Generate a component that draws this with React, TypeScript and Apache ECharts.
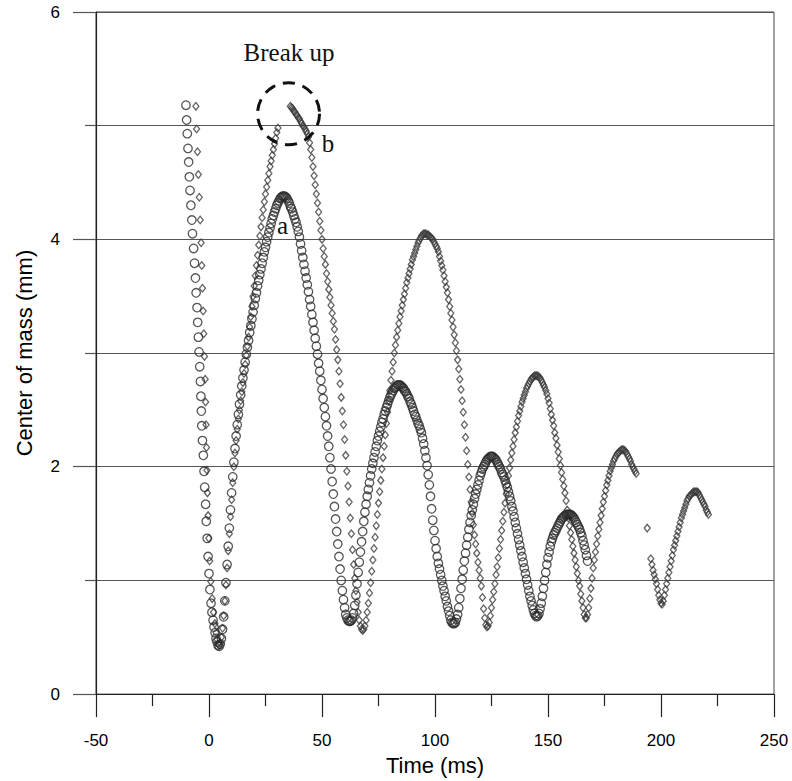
import React, { useEffect, useRef } from "react";
import * as echarts from "echarts";

// Frame interval of the high-speed recording (ms)
const FRAME_MS = 0.5;

// Axis ranges and ticks
const X_MIN = -50;
const X_MAX = 250;
const X_STEP = 50;
const Y_MIN = 0;
const Y_MAX = 6;
const Y_STEP = 2;

// Drop a (circles): free fall before impact, [time ms, height mm]
const aFall = [
  [-10.2, 5.18], [-9.9, 5.05], [-9.6, 4.93], [-9.3, 4.8], [-9.0, 4.68], [-8.7, 4.55],
  [-8.4, 4.43], [-8.0, 4.3], [-7.6, 4.17], [-7.3, 4.05], [-6.8, 3.92], [-6.4, 3.79],
  [-6.0, 3.66], [-5.7, 3.53], [-5.3, 3.4], [-5.0, 3.27], [-4.7, 3.14], [-4.4, 3.01],
  [-4.1, 2.88], [-3.8, 2.75], [-3.6, 2.62], [-3.4, 2.49], [-3.2, 2.36], [-2.9, 2.23],
  [-2.5, 2.1], [-2.2, 1.96], [-1.9, 1.82], [-1.5, 1.67], [-1.2, 1.52], [-0.8, 1.37],
  [-0.4, 1.21], [0.0, 1.06], [0.4, 0.92], [0.9, 0.8], [1.3, 0.72], [1.8, 0.65],
  [2.2, 0.59], [2.7, 0.54], [3.1, 0.49], [3.5, 0.46],
];

// Drop a (circles): rebound frames starting at 4.0 ms
const aBounceStart = 4.0;
const aBounce = [
  0.43, 0.42, 0.44, 0.49, 0.57, 0.68, 0.82, 0.98, 1.14, 1.3, 1.46, 1.62, 1.77, 1.91, 2.04, 2.16,
  2.27, 2.37, 2.46, 2.55, 2.63, 2.71, 2.78, 2.85, 2.92, 2.99, 3.05, 3.11, 3.18, 3.24, 3.3, 3.36,
  3.42, 3.48, 3.53, 3.59, 3.64, 3.69, 3.74, 3.79, 3.84, 3.89, 3.93, 3.98, 4.02, 4.06, 4.1, 4.14,
  4.18, 4.21, 4.24, 4.27, 4.3, 4.32, 4.34, 4.36, 4.37, 4.38, 4.38, 4.38, 4.37, 4.36, 4.34, 4.32,
  4.29, 4.27, 4.24, 4.21, 4.18, 4.15, 4.11, 4.07, 4.02, 3.96, 3.9, 3.84, 3.78, 3.72, 3.66, 3.6,
  3.54, 3.47, 3.41, 3.34, 3.27, 3.2, 3.13, 3.06, 2.99, 2.91, 2.84, 2.76, 2.68, 2.6, 2.52, 2.44,
  2.36, 2.27, 2.18, 2.08, 1.98, 1.87, 1.76, 1.65, 1.54, 1.43, 1.32, 1.21, 1.1, 1.0, 0.91, 0.83,
  0.76, 0.7, 0.67, 0.65, 0.64, 0.64, 0.65, 0.67, 0.71, 0.78, 0.87, 0.97, 1.07, 1.16, 1.25, 1.34,
  1.43, 1.52, 1.6, 1.67, 1.74, 1.8, 1.86, 1.92, 1.98, 2.03, 2.08, 2.13, 2.18, 2.23, 2.27, 2.31,
  2.35, 2.39, 2.42, 2.46, 2.49, 2.52, 2.55, 2.58, 2.61, 2.63, 2.65, 2.67, 2.69, 2.7, 2.71, 2.72,
  2.72, 2.72, 2.71, 2.7, 2.69, 2.67, 2.66, 2.64, 2.62, 2.6, 2.57, 2.55, 2.52, 2.49, 2.46, 2.44,
  2.41, 2.38, 2.36, 2.33, 2.3, 2.25, 2.2, 2.14, 2.08, 2.01, 1.93, 1.84, 1.74, 1.63, 1.53, 1.44,
  1.35, 1.28, 1.21, 1.15, 1.1, 1.05, 1.0, 0.95, 0.91, 0.86, 0.82, 0.77, 0.73, 0.69, 0.65, 0.63,
  0.62, 0.62, 0.63, 0.66, 0.7, 0.76, 0.84, 0.93, 1.01, 1.09, 1.17, 1.24, 1.31, 1.38, 1.45, 1.51,
  1.57, 1.62, 1.67, 1.72, 1.76, 1.8, 1.84, 1.88, 1.92, 1.95, 1.98, 2.0, 2.02, 2.04, 2.06, 2.07,
  2.08, 2.09, 2.09, 2.09, 2.08, 2.07, 2.06, 2.04, 2.02, 2.0, 1.98, 1.95, 1.93, 1.91, 1.88, 1.85,
  1.82, 1.78, 1.74, 1.7, 1.65, 1.61, 1.56, 1.51, 1.46, 1.41, 1.36, 1.31, 1.26, 1.21, 1.16, 1.11,
  1.06, 1.01, 0.96, 0.91, 0.86, 0.82, 0.78, 0.74, 0.71, 0.69, 0.68, 0.69, 0.71, 0.75, 0.8, 0.86,
  0.93, 1.0, 1.07, 1.14, 1.2, 1.25, 1.3, 1.34, 1.37, 1.4, 1.42, 1.44, 1.46, 1.48, 1.5, 1.52,
  1.54, 1.55, 1.56, 1.57, 1.58, 1.58, 1.58, 1.58, 1.58, 1.57, 1.56, 1.55, 1.53, 1.51, 1.49, 1.47,
  1.45, 1.42, 1.39, 1.35, 1.31, 1.27, 1.22, 1.17,
];

// Drop b (diamonds): free fall before impact, [time ms, height mm]
const bFall = [
  [-5.8, 5.17], [-5.5, 4.97], [-5.1, 4.77], [-4.7, 4.57], [-4.3, 4.37], [-3.9, 4.17],
  [-3.5, 3.97], [-3.2, 3.77], [-2.9, 3.57], [-2.6, 3.37], [-2.3, 3.17], [-2.0, 2.97],
  [-1.7, 2.77], [-1.5, 2.57], [-1.3, 2.37], [-1.1, 2.17], [-0.9, 1.97], [-0.7, 1.77],
  [-0.4, 1.57], [-0.1, 1.37], [0.3, 1.17], [0.8, 0.99], [1.4, 0.84], [2.0, 0.72],
  [2.6, 0.62], [3.1, 0.54], [3.6, 0.48],
];

// Drop b (diamonds): first rise, frames starting at 4.0 ms
const bRiseStart = 4.0;
const bRise = [
  0.44, 0.43, 0.45, 0.5, 0.58, 0.69, 0.82, 0.96, 1.11, 1.26, 1.41, 1.56, 1.71, 1.86, 2.0, 2.12,
  2.23, 2.33, 2.42, 2.5, 2.58, 2.66, 2.74, 2.82, 2.9, 2.98, 3.06, 3.14, 3.23, 3.32, 3.41, 3.5,
  3.59, 3.68, 3.77, 3.86, 3.95, 4.03, 4.11, 4.19, 4.26, 4.33, 4.4, 4.46, 4.52, 4.58, 4.64, 4.69,
  4.74, 4.79, 4.84, 4.89, 4.94, 4.98,
];

// Drop b (diamonds): after break up, frames starting at 36.0 ms
const bAfterStart = 36.0;
const bAfter = [
  5.17, 5.16, 5.15, 5.13, 5.12, 5.1, 5.09, 5.07, 5.06, 5.04, 5.02, 5.0, 4.99, 4.97, 4.95, 4.93,
  4.9, 4.85, 4.79, 4.72, 4.64, 4.56, 4.48, 4.4, 4.32, 4.24, 4.16, 4.08, 4.0, 3.92, 3.85, 3.78,
  3.7, 3.63, 3.56, 3.49, 3.42, 3.35, 3.28, 3.21, 3.12, 3.03, 2.94, 2.84, 2.73, 2.61, 2.49, 2.37,
  2.24, 2.1, 1.96, 1.83, 1.69, 1.55, 1.41, 1.27, 1.14, 1.02, 0.91, 0.81, 0.72, 0.65, 0.6, 0.57,
  0.56, 0.57, 0.6, 0.65, 0.72, 0.8, 0.89, 0.98, 1.08, 1.18, 1.28, 1.38, 1.48, 1.58, 1.68, 1.78,
  1.88, 1.98, 2.08, 2.18, 2.28, 2.38, 2.48, 2.58, 2.67, 2.76, 2.84, 2.92, 3.0, 3.07, 3.14, 3.2,
  3.26, 3.32, 3.37, 3.42, 3.47, 3.52, 3.57, 3.62, 3.66, 3.7, 3.74, 3.78, 3.82, 3.85, 3.88, 3.91,
  3.94, 3.97, 3.99, 4.01, 4.03, 4.04, 4.05, 4.05, 4.05, 4.04, 4.04, 4.03, 4.02, 4.01, 4.0, 3.98,
  3.96, 3.94, 3.92, 3.89, 3.85, 3.81, 3.77, 3.73, 3.68, 3.63, 3.58, 3.53, 3.47, 3.41, 3.35, 3.29,
  3.23, 3.16, 3.09, 3.02, 2.94, 2.86, 2.77, 2.68, 2.58, 2.48, 2.37, 2.26, 2.14, 2.02, 1.91, 1.8,
  1.69, 1.59, 1.49, 1.4, 1.32, 1.24, 1.16, 1.09, 1.02, 0.95, 0.85, 0.75, 0.67, 0.61, 0.59, 0.6,
  0.63, 0.69, 0.76, 0.83, 0.9, 0.97, 1.05, 1.12, 1.2, 1.28, 1.36, 1.44, 1.52, 1.6, 1.68, 1.76,
  1.84, 1.92, 1.99, 2.06, 2.12, 2.18, 2.24, 2.3, 2.35, 2.4, 2.45, 2.49, 2.53, 2.57, 2.6, 2.63,
  2.66, 2.69, 2.71, 2.73, 2.75, 2.77, 2.78, 2.79, 2.8, 2.8, 2.8, 2.8, 2.79, 2.78, 2.76, 2.74,
  2.72, 2.7, 2.67, 2.64, 2.6, 2.56, 2.51, 2.46, 2.41, 2.36, 2.3, 2.25, 2.19, 2.13, 2.07, 2.01,
  1.95, 1.89, 1.83, 1.77, 1.7, 1.62, 1.55, 1.48, 1.42, 1.36, 1.3, 1.24, 1.18, 1.12, 1.06, 1.0,
  0.95, 0.88, 0.82, 0.76, 0.7, 0.67, 0.67, 0.7, 0.76, 0.84, 0.93, 1.02, 1.11, 1.18, 1.25, 1.32,
  1.39, 1.45, 1.51, 1.57, 1.63, 1.69, 1.74, 1.79, 1.84, 1.88, 1.92, 1.96, 1.99, 2.02, 2.05, 2.07,
  2.09, 2.11, 2.12, 2.13, 2.14, 2.15, 2.15, 2.15, 2.14, 2.13, 2.11, 2.09, 2.07, 2.05, 2.02, 2.0,
  1.98, 1.96, 1.94,
];

// Drop b (diamonds): lone frame and last bounce
const bLone = [[193.9, 1.46]];
const bLastStart = 195.5;
const bLast = [
  1.19, 1.14, 1.09, 1.05, 1.01, 0.97, 0.92, 0.87, 0.83, 0.8, 0.79, 0.82, 0.87, 0.92, 0.97, 1.02,
  1.07, 1.12, 1.17, 1.22, 1.27, 1.31, 1.35, 1.39, 1.43, 1.47, 1.51, 1.55, 1.58, 1.61, 1.64, 1.67,
  1.7, 1.72, 1.74, 1.75, 1.76, 1.77, 1.78, 1.78, 1.78, 1.78, 1.77, 1.75, 1.73, 1.71, 1.69, 1.67,
  1.65, 1.62, 1.6, 1.58,
];

// Annotations placed in data coordinates
const breakUpCenter = [35.2, 5.105];
const breakUpText = [35.4, 5.64];
const labelA = [32.5, 4.12];
const labelB = [52.7, 4.84];

const frames = (start: number, ys: number[]) =>
  ys.map((y, i) => [start + i * FRAME_MS, y]);

const SANS = '"Liberation Sans", Arial, Helvetica, sans-serif';
const SERIF = '"Liberation Serif", "Times New Roman", Times, serif';

export default function App() {
  const ref = useRef<HTMLDivElement>(null);

  useEffect(() => {
    if (!ref.current) return;
    const chart = echarts.init(ref.current, null, { renderer: "svg" });

    const circles = [...aFall, ...frames(aBounceStart, aBounce)];
    const diamonds = [
      ...bFall,
      ...frames(bRiseStart, bRise),
      ...frames(bAfterStart, bAfter),
      ...bLone,
      ...frames(bLastStart, bLast),
    ];

    chart.setOption({
      animation: false,
      backgroundColor: "#fff",
      grid: {
        left: 96,
        right: 18,
        top: 12,
        bottom: 84,
        show: true,
        borderColor: "#444",
        borderWidth: 1,
      },
      xAxis: {
        type: "value",
        min: X_MIN,
        max: X_MAX,
        interval: X_STEP,
        name: "Time (ms)",
        nameLocation: "middle",
        nameGap: 54,
        nameTextStyle: { fontFamily: SANS, fontSize: 22, color: "#000" },
        axisLine: { onZero: false, lineStyle: { color: "#222", width: 1.2 } },
        axisTick: { show: true, length: 23, lineStyle: { color: "#222", width: 1.2 } },
        minorTick: { show: true, splitNumber: 2, length: 12, lineStyle: { color: "#222", width: 1.2 } },
        splitLine: { show: false },
        axisLabel: { fontFamily: SANS, fontSize: 17, color: "#000", margin: 38 },
      },
      yAxis: {
        type: "value",
        min: Y_MIN,
        max: Y_MAX,
        interval: Y_STEP,
        name: "Center of mass (mm)",
        nameLocation: "middle",
        nameGap: 61,
        nameTextStyle: { fontFamily: SANS, fontSize: 22, color: "#000" },
        axisLine: { onZero: false, lineStyle: { color: "#222", width: 1.2 } },
        axisTick: { show: true, length: 23, lineStyle: { color: "#555", width: 1.2 } },
        minorTick: { show: true, splitNumber: 2, length: 11, lineStyle: { color: "#555", width: 1.2 } },
        splitLine: { show: true, lineStyle: { color: "#555", width: 1.2 } },
        minorSplitLine: { show: true, lineStyle: { color: "#555", width: 1.2 } },
        axisLabel: { fontFamily: SANS, fontSize: 17, color: "#000", margin: 36 },
      },
      series: [
        {
          name: "b",
          type: "scatter",
          silent: true,
          symbol: "diamond",
          symbolSize: [6, 7.5],
          itemStyle: { color: "rgba(0,0,0,0)", borderColor: "#3c3c3c", borderWidth: 1.3 },
          data: diamonds,
          z: 2,
        },
        {
          name: "a",
          type: "scatter",
          silent: true,
          symbol: "circle",
          symbolSize: 8.5,
          itemStyle: { color: "rgba(0,0,0,0)", borderColor: "#2a2a2a", borderWidth: 1.3 },
          data: circles,
          z: 3,
        },
      ],
    });

    const px = (p: number[]) => chart.convertToPixel({ gridIndex: 0 }, p) as number[];
    const c = px(breakUpCenter);
    const t = px(breakUpText);
    const la = px(labelA);
    const lb = px(labelB);
    const textStyle = (text: string, p: number[], size: number) => ({
      type: "text",
      x: p[0],
      y: p[1],
      style: {
        text,
        font: `${size}px ${SERIF}`,
        fill: "#111",
        align: "center",
        verticalAlign: "middle",
        textAlign: "center",
        textVerticalAlign: "middle",
      },
      z: 10,
    });

    chart.setOption({
      graphic: [
        {
          type: "circle",
          shape: { cx: c[0], cy: c[1], r: 31 },
          style: { fill: "none", stroke: "#111", lineWidth: 3, lineDash: [12, 8] },
          z: 10,
        },
        textStyle("Break up", t, 25),
        textStyle("a", la, 25),
        textStyle("b", lb, 25),
      ],
    });

    return () => chart.dispose();
  }, []);

  return (
    <div
      ref={ref}
      style={{ position: "fixed", left: 0, top: 0, width: 792, height: 781, background: "#fff" }}
    />
  );
}
